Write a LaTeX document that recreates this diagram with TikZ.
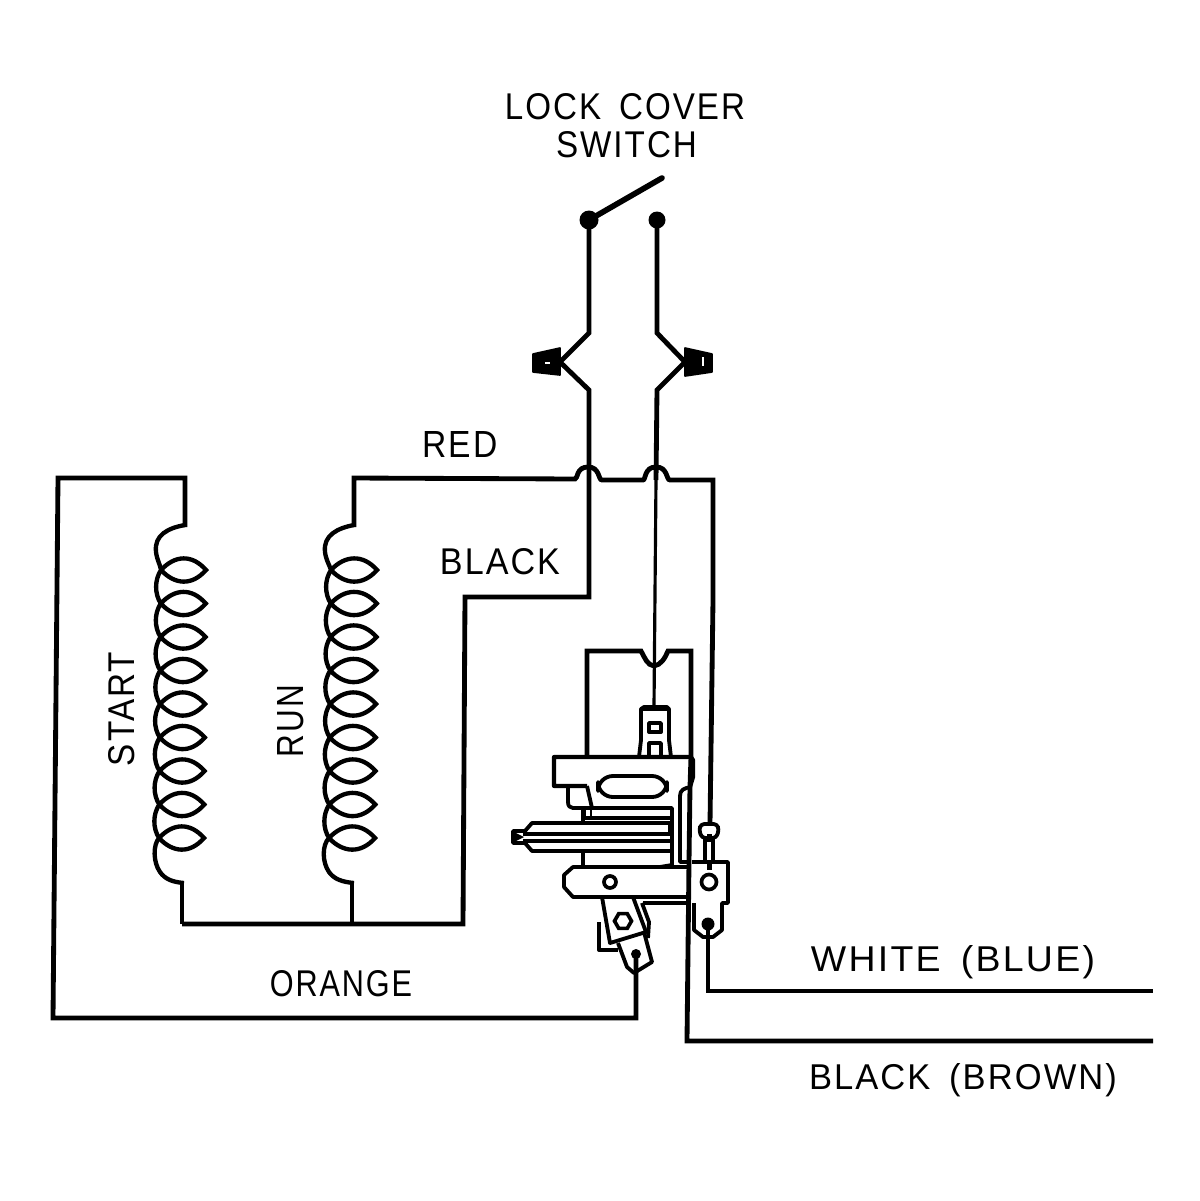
\documentclass[tikz,border=0pt]{standalone}
\usepackage{fontspec}
\usepackage{graphicx}
\usetikzlibrary{shapes.geometric}
\newfontfamily\cad[LetterSpace=6,WordSpace=1.6]{Liberation Sans}
\newlength{\pxu}\setlength{\pxu}{0.6pt}
\newcommand{\lbl}[2]{\resizebox{#1\pxu}{26\pxu}{\cad #2}}
\tikzset{
 wire/.style={line width=2.9pt,line join=miter},
 thin wire/.style={line width=1.9pt},
 coil/.style={line width=2.6pt,line join=round},
 part/.style={line width=2.3pt,line join=round},
 dot/.style={circle,fill=black,inner sep=0pt,minimum size=#1*0.6pt},
 txt/.style={inner sep=0pt,anchor=base},
 nut/.style={fill=black,draw=black,line width=1pt,line join=round},
 hole/.style={circle,draw=black,line width=2.2pt,inner sep=0pt,minimum size=#1*0.6pt},
 hexhole/.style={regular polygon,regular polygon sides=6,draw=black,line width=2.2pt,inner sep=0pt,minimum size=#1*0.6pt}
}
\begin{document}
\begin{tikzpicture}[x=0.6pt,y=-0.6pt]
\useasboundingbox (0,0) rectangle (1200,1201);
% labels
\node[txt] (lock) at (625,119) {\lbl{240}{LOCK COVER}};
\node[txt] (sw) at (626.5,157) {\lbl{141}{SWITCH}};
\node[txt] (red) at (460,457) {\lbl{75}{RED}};
\node[txt] (blk) at (500,574) {\lbl{120}{BLACK}};
\node[txt] (org) at (341,996) {\lbl{142}{ORANGE}};
\node[txt] (wht) at (953,971) {\lbl{284}{WHITE (BLUE)}};
\node[txt] (brn) at (963,1089) {\lbl{308}{BLACK (BROWN)}};
\node[txt,rotate=90] (st) at (134,709) {\lbl{114}{START}};
\node[txt,rotate=90] (rn) at (303,721) {\lbl{72}{RUN}};
% switch
\node[dot=19] (sa) at (589,220) {};
\node[dot=17] (sb) at (657,220) {};
\coordinate (armend) at (662,178);
\draw[line width=3.4pt,line cap=round] (sa.center) -- (armend);
\coordinate (nl) at (560,362);
\coordinate (nr) at (685,362);
\draw[wire] (sa.center) -- (589,333) -- (nl) -- (589,390) -- (589,597) -- (465,597) -- (463,924) -- (182,924);
\draw[wire] (sb.center) -- (657,333) -- (nr) -- (657,390) -- (656,480);
\draw[nut] (nl)+(0,-14) -- +(-27,-8) -- +(-27,10) -- +(0,13) -- cycle;
\draw[nut] (nr)+(0,-14) -- +(27,-8) -- +(27,10) -- +(0,14) -- cycle;
\draw[white,line width=0.7pt] (545,363) -- (550,363) (703,357) -- (703,366);
% red wire with hops
\draw[wire] (354,527) -- (354,478) -- (575,479) .. controls (578,479) and (576,467) .. (588,467) .. controls (600,467) and (598,480) .. (602,480) -- (643,480) .. controls (646,480) and (644,467) .. (656,467) .. controls (668,467) and (666,480) .. (670,480) -- (713,480) -- (713,600) -- (710,824);
% orange wire
\draw[wire] (185,527) -- (185,478) -- (58,478) -- (53,1018) -- (636,1018) -- (636,954);
\draw[wire] (352,924) -- (352,881);
\draw[wire] (182,924) -- (182,881);
% start coil
\draw[coil]
 (185,525) .. controls (168,528) and (154,535) .. (156,552) .. controls (157,560) and (160,564) .. (161,570)
 foreach \i [evaluate=\i as \yy using 570+33.5*\i, evaluate=\i as \ybb using 603.5+33.5*\i, evaluate=\i as \xb using 160.75-0.25*\i, evaluate=\i as \xm using 154.5-0.25*\i]
 in {0,...,7} { .. controls (\xm,\yy+10) and (\xm,\ybb-10) .. (\xb,\ybb) }
 .. controls (153,845) and (153,862) .. (160,872) .. controls (165,879) and (172,882) .. (184,883);
\foreach \i in {0,...,8}{
 \pgfmathsetmacro{\yy}{570+33.5*\i}\pgfmathsetmacro{\xx}{161-0.25*\i}\pgfmathsetmacro{\xt}{206-0.25*\i}
 \draw[line width=2.6pt,line join=miter] (\xx,\yy) .. controls (\xx+14,\yy-15) and (\xt-14,\yy-16) .. (\xt,\yy) .. controls (\xt-14,\yy+16) and (\xx+14,\yy+15) .. (\xx,\yy);
}
% run coil
\draw[coil]
 (354,525) .. controls (338,528) and (323,535) .. (325,552) .. controls (326,560) and (329,564) .. (331,570)
 foreach \i [evaluate=\i as \yy using 570+33.5*\i, evaluate=\i as \ybb using 603.5+33.5*\i, evaluate=\i as \xb using 330.75-0.25*\i, evaluate=\i as \xm using 324.5-0.25*\i]
 in {0,...,7} { .. controls (\xm,\yy+10) and (\xm,\ybb-10) .. (\xb,\ybb) }
 .. controls (322,845) and (322,862) .. (329,872) .. controls (334,879) and (342,882) .. (354,883);
\foreach \i in {0,...,8}{
 \pgfmathsetmacro{\yy}{570+33.5*\i}\pgfmathsetmacro{\xx}{331-0.25*\i}\pgfmathsetmacro{\xt}{377-0.25*\i}
 \draw[line width=2.6pt,line join=miter] (\xx,\yy) .. controls (\xx+14,\yy-15) and (\xt-14,\yy-16) .. (\xt,\yy) .. controls (\xt-14,\yy+16) and (\xx+14,\yy+15) .. (\xx,\yy);
}
% thin wire from switch to device
\draw[thin wire] (656,480) -- (654,707);
% device housing
\draw[wire] (587,757) -- (587,651) -- (641,651) .. controls (645,658) and (647,665) .. (654,666) .. controls (661,665) and (665,658) .. (668,651) -- (691,651) -- (691,757);
% connector
\draw[part] (639,757) -- (641,740) -- (641,709) -- (644,707) -- (667,707) -- (669,709) -- (669,740) -- (671,757);
\draw[line width=3pt] (642,708) -- (669,708);
\draw[part] (649,723) rectangle (661,732);
\draw[part] (649,757) -- (649,743) -- (661,743) -- (661,757);
% body
\draw[part,line width=2.5pt] (587,786) -- (554,786) -- (554,757) -- (691,757) -- (693,760) -- (693,777) -- (690,787);
\draw[part] (587,786) -- (592,808);
\draw[part] (568,787) -- (568,802) .. controls (568,806) and (570,808) .. (573,808) -- (672,808) -- (672,865) -- (660,867);
\draw[part,rounded corners=9pt] (598,776) rectangle (667,797);
\draw[part] (691,787) .. controls (684,788) and (680,790) .. (680,796) -- (680,862) -- (690,862);
\draw[line width=1.6pt] (585,809) rectangle (591,817);
\draw[part] (583,808) -- (583,823);
\draw[part] (583,818) -- (672,818);
% plunger
\draw[part] (670,823) -- (532,823) -- (525,831) -- (513,831) -- (513,843) -- (525,843) -- (532,851) -- (672,851);
\draw[part] (523,834) -- (670,834) (523,841) -- (672,841);
\draw[part] (670,823) -- (670,834);
\fill (514,832) -- (524,837) -- (514,842) -- cycle;
\draw[part] (583,851) -- (583,867);
% plate
\draw[part] (690,867) -- (573,867) -- (564,875) -- (564,887) -- (573,897) -- (687,897);
\node[hole=12] (h1) at (610,882) {};
\draw[part] (643,903) -- (690,903);
% lower terminal
\draw[part] (602,897) -- (610,943) -- (646,932) -- (633,897);
\node[hexhole=17] (h2) at (623,921) {};
\draw[part] (618,943) -- (627,967) -- (634,973) -- (652,962) -- (644,932);
\node[dot=10] (d1) at (636,954) {};
\draw[part] (599,922) -- (599,950) -- (618,950);
\draw[part] (642,903) -- (649,922) -- (648,938);
% right terminal
\draw[part] (692,862) -- (728,862) -- (728,903) -- (722,903) -- (722,930) -- (713,937) -- (703,937) -- (694,930) -- (694,903);
\node[hole=15] (h3) at (709,882) {};
\node[dot=13] (d2) at (708,924) {};
\draw[part,rounded corners=2pt] (701,824) -- (717,824) -- (719,830) -- (716,838) -- (702,838) -- (699,830) -- cycle;
\draw[part] (705,838) -- (705,862) (713,838) -- (713,862);
\draw[line width=3pt] (709,834) -- (709,842) (709,862) -- (709,870);
% supply wires
\draw[wire] (691,757) -- (690,787) -- (689,862) -- (687,1041) -- (1153,1041);
\draw[wire] (d2.center) -- (708,991) -- (1153,991);
\end{tikzpicture}
\end{document}
